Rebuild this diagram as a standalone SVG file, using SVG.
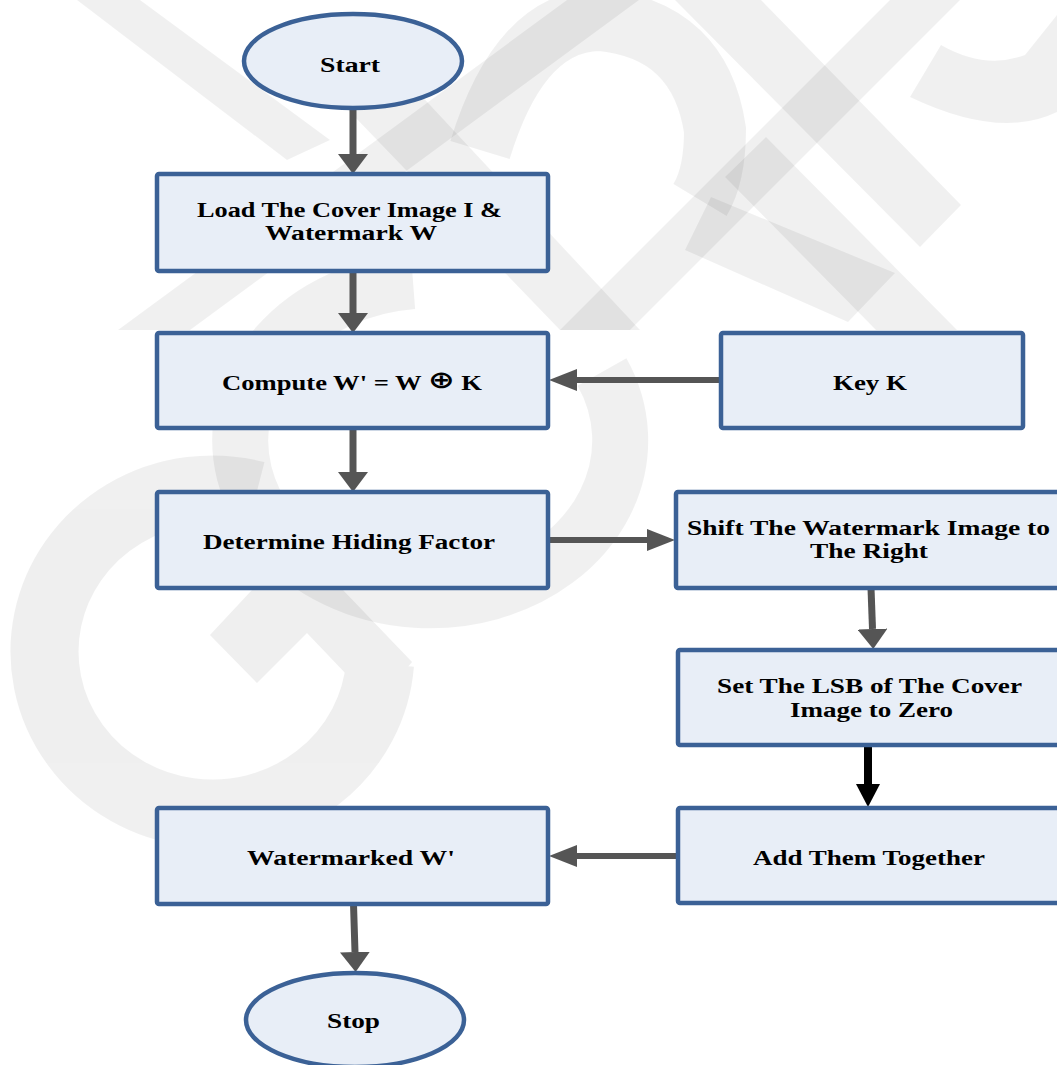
<svg xmlns="http://www.w3.org/2000/svg" width="1057" height="1065" viewBox="0 0 1057 1065">
  <defs>
    <style>
      .box { fill: #e8eef7; stroke: #3b6196; stroke-width: 4.5; }
      .lbl { font-family: "Liberation Serif", "Times New Roman", serif; font-weight: bold; font-size: 20px; fill: #000; text-anchor: middle; }
      .sym { font-family: "DejaVu Sans", sans-serif; font-weight: bold; font-size: 24px; }
      .cg { fill: none; stroke: #555555; }
      .wm { fill: #000; opacity: 0.06; }
    </style>
    <marker id="aV" markerUnits="userSpaceOnUse" markerWidth="20" markerHeight="30" viewBox="0 0 20 30" refX="0" refY="15" orient="auto">
      <path d="M0,0 L20,15 L0,30 Z" fill="#555555"/>
    </marker>
    <marker id="aH" markerUnits="userSpaceOnUse" markerWidth="28" markerHeight="22" viewBox="0 0 28 22" refX="0" refY="11" orient="auto">
      <path d="M0,0 L28,11 L0,22 Z" fill="#555555"/>
    </marker>
    <marker id="aB" markerUnits="userSpaceOnUse" markerWidth="23" markerHeight="24" viewBox="0 0 23 24" refX="0" refY="12" orient="auto">
      <path d="M0,0 L23,12 L0,24 Z" fill="#000"/>
    </marker>
    <clipPath id="top"><rect x="0" y="0" width="1057" height="330"/></clipPath>
  </defs>

  <rect x="0" y="0" width="1057" height="1065" fill="#ffffff"/>

  <g id="watermark">
    <g class="wm">
      <path d="M256,495 A168,162 0 1 0 380,664" fill="none" stroke="#000" stroke-width="68"/>
      <path d="M210,635 L252,590 L252,588 L341,588 L412,662 L380,700 L349,677 L307,633 L257,683 Z"/>
    </g>
    <g class="wm">
      <path d="M602,372 A190,160 0 1 1 413,281" fill="none" stroke="#000" stroke-width="56"/>
    </g>
    <g clip-path="url(#top)">
      <g class="wm"><polygon points="77,0 140,0 330,140 287,160"/></g>
      <g class="wm"><polygon points="118,330 190,330 639,0 567,0"/></g>
      <g class="wm"><polygon points="300,60 360,30 640,330 560,330"/></g>
      <g class="wm"><polygon points="675,0 761,0 961,205 920,247"/></g>
      <g class="wm"><polygon points="725,177 766,137 957,330 876,330"/></g>
      <g class="wm"><polygon points="560,330 630,330 960,0 890,0"/></g>
      <g class="wm"><path d="M480,150 Q520,20 600,20 Q700,30 715,130 Q715,175 700,200" fill="none" stroke="#000" stroke-width="62"/></g>
      <g class="wm"><polygon points="711,197 895,273 848,322 685,250"/></g>
      <g class="wm"><path d="M941,45 Q985,70 1025,55 L1057,15 L1057,112 Q1000,140 910,97 Z"/></g>
    </g>
  </g>

  <g id="connectors">
    <line class="cg" x1="353" y1="108" x2="353" y2="154" stroke-width="7" marker-end="url(#aV)"/>
    <line class="cg" x1="353" y1="271" x2="353" y2="313" stroke-width="7" marker-end="url(#aV)"/>
    <line class="cg" x1="353" y1="428" x2="353" y2="472" stroke-width="7" marker-end="url(#aV)"/>
    <line class="cg" x1="720" y1="380" x2="577" y2="380" stroke-width="6" marker-end="url(#aH)"/>
    <line class="cg" x1="548" y1="540" x2="647" y2="540" stroke-width="6" marker-end="url(#aH)"/>
    <line class="cg" x1="871" y1="588" x2="872.5" y2="629" stroke-width="7" marker-end="url(#aV)"/>
    <line x1="868" y1="742" x2="868" y2="784" stroke="#000" stroke-width="8" marker-end="url(#aB)"/>
    <line class="cg" x1="677" y1="856" x2="577" y2="856" stroke-width="6" marker-end="url(#aH)"/>
    <line class="cg" x1="353.5" y1="904" x2="355" y2="952" stroke-width="7" marker-end="url(#aV)"/>
  </g>

  <g id="start">
    <ellipse class="box" cx="353" cy="61" rx="109" ry="47"/>
    <text class="lbl" x="350" y="72" textLength="60" lengthAdjust="spacingAndGlyphs">Start</text>
  </g>
  <g id="load">
    <rect class="box" x="157" y="174" width="391" height="97" rx="2"/>
    <text class="lbl" x="349.5" y="217" textLength="305" lengthAdjust="spacingAndGlyphs">Load The Cover Image I &amp;</text>
    <text class="lbl" x="351" y="240" textLength="172" lengthAdjust="spacingAndGlyphs">Watermark W</text>
  </g>
  <g id="compute">
    <rect class="box" x="157" y="333" width="391" height="95" rx="2"/>
    <text class="lbl" x="352" y="390" textLength="260" lengthAdjust="spacingAndGlyphs">Compute W' = W <tspan class="sym" dy="-2">⊕</tspan><tspan dy="2"> K</tspan></text>
  </g>
  <g id="key">
    <rect class="box" x="721" y="333" width="302" height="95" rx="2"/>
    <text class="lbl" x="870" y="390" textLength="74" lengthAdjust="spacingAndGlyphs">Key K</text>
  </g>
  <g id="determine">
    <rect class="box" x="157" y="492" width="391" height="96" rx="2"/>
    <text class="lbl" x="349" y="549" textLength="292" lengthAdjust="spacingAndGlyphs">Determine Hiding Factor</text>
  </g>
  <g id="shift">
    <rect class="box" x="676" y="492" width="392" height="96" rx="2"/>
    <text class="lbl" x="868.5" y="535" textLength="363" lengthAdjust="spacingAndGlyphs">Shift The Watermark Image to</text>
    <text class="lbl" x="869" y="558" textLength="118" lengthAdjust="spacingAndGlyphs">The Right</text>
  </g>
  <g id="setlsb">
    <rect class="box" x="678" y="650" width="390" height="95" rx="2"/>
    <text class="lbl" x="869.5" y="693" textLength="305" lengthAdjust="spacingAndGlyphs">Set The LSB of The Cover</text>
    <text class="lbl" x="871.5" y="717" textLength="163" lengthAdjust="spacingAndGlyphs">Image to Zero</text>
  </g>
  <g id="add">
    <rect class="box" x="678" y="808" width="390" height="95" rx="2"/>
    <text class="lbl" x="869" y="865" textLength="232" lengthAdjust="spacingAndGlyphs">Add Them Together</text>
  </g>
  <g id="watermarked">
    <rect class="box" x="157" y="808" width="391" height="96" rx="2"/>
    <text class="lbl" x="351" y="865" textLength="208" lengthAdjust="spacingAndGlyphs">Watermarked W'</text>
  </g>
  <g id="stop">
    <ellipse class="box" cx="355" cy="1020" rx="109" ry="47"/>
    <text class="lbl" x="353.5" y="1028" textLength="53" lengthAdjust="spacingAndGlyphs">Stop</text>
  </g>
</svg>
